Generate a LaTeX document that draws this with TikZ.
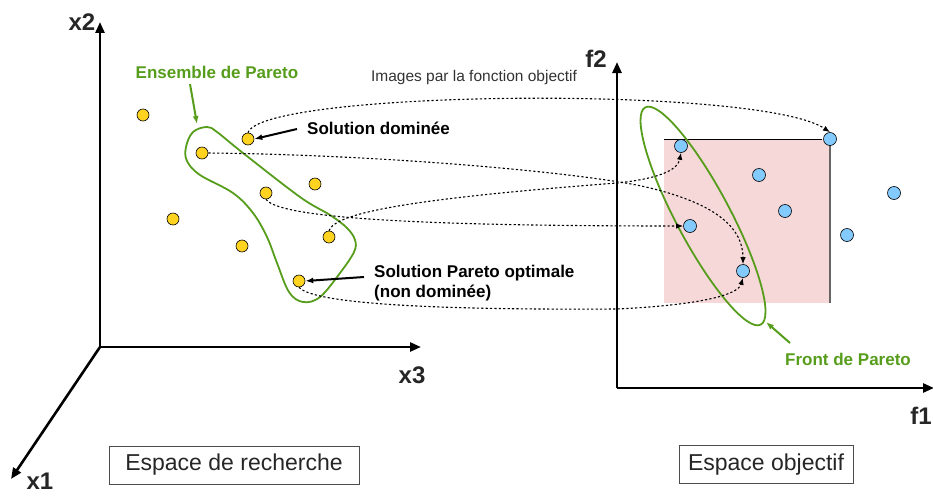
\documentclass[tikz,border=0pt]{standalone}
\usepackage{fontspec}
\setmainfont{Liberation Sans}
\usetikzlibrary{arrows.meta}
\definecolor{ptyellow}{HTML}{FFD320}
\definecolor{ptblue}{HTML}{83CAFF}
\definecolor{pgreen}{HTML}{579D1C}
\definecolor{ppink}{HTML}{F6D8D8}
\definecolor{txtgray}{HTML}{333333}
\tikzset{
  ypt/.style={circle, draw=black, line width=0.6pt, fill=ptyellow, minimum size=12pt, inner sep=0pt},
  bpt/.style={circle, draw=black, line width=0.6pt, fill=ptblue, minimum size=13pt, inner sep=0pt},
  axis/.style={line width=2.6pt, -{Triangle[length=11pt,width=9pt]}},
  axlabel/.style={font=\fontsize{24}{28}\selectfont\bfseries, text=black!85, inner sep=0pt},
  lbl/.style={font=\fontsize{17}{20}\selectfont\bfseries, inner sep=0pt},
  glbl/.style={font=\fontsize{17}{20}\selectfont\bfseries, text=pgreen, inner sep=0pt},
  mapline/.style={line width=1.1pt, dash pattern=on 2.2pt off 2.2pt, -{Latex[length=7pt,width=5.5pt]}},
  ptr/.style={line width=2pt, -{Latex[length=8pt,width=6pt]}},
  gptr/.style={line width=2pt, draw=pgreen, -{Latex[length=8pt,width=6pt]}},
  spacebox/.style={draw=black!70, line width=0.8pt, font=\fontsize{23}{27}\selectfont, text=black!85, inner sep=0pt, minimum height=38pt},
}
\begin{document}
\begin{tikzpicture}[x=1pt,y=-1pt]
\useasboundingbox (0,0) rectangle (933,495);
% pink dominated region
\fill[ppink] (664,139) rectangle (830,303);
\draw[black, line width=1pt] (664,139) -- (822,139);
\draw[black!60, line width=1.2pt] (830,145) -- (830,303);
% axes left
\coordinate (o1) at (100,347);
\coordinate (x2t) at (100,22);
\coordinate (x3t) at (421,347);
\coordinate (x1t) at (11,479);
\draw[axis] (o1) -- (x2t);
\draw[axis] (o1) -- (x3t);
\draw[axis] (o1) -- (x1t);
\node[axlabel] (lx2) at (82,22) {x2};
\node[axlabel] (lx3) at (412,375) {x3};
\node[axlabel, anchor=south] (lx1) at (40,490) {x1};
% axes right
\coordinate (o2) at (617,388);
\coordinate (f2t) at (617,62);
\coordinate (f1t) at (934,388);
\draw[axis] (o2) -- (f2t);
\draw[axis] (o2) -- (f1t);
\node[axlabel] (lf2) at (596,59) {f2};
\node[axlabel, anchor=east] (lf1) at (932,416) {f1};
% Pareto set blob
\draw[pgreen, line width=1.8pt] plot[smooth cycle, tension=0.6] coordinates {
 (207,127) (217,132) (243,153) (300,197) (330,215) (347,228) (355,240) (354,252)
 (340,273) (320,297) (303,302) (289,292) (277,263) (267,237) (253,213) (233,193)
 (200,175) (187,161) (186,147) (193,132)};
% Pareto front ellipse
\draw[pgreen, line width=1.8pt, rotate around={-62:(703,216)}] (703,216) ellipse [x radius=123pt, y radius=27pt];
% search space points
\node[ypt] (y1) at (143,115) {};
\node[ypt] (y2) at (248,139) {};
\node[ypt] (y3) at (202,153) {};
\node[ypt] (y4) at (315,184) {};
\node[ypt] (y5) at (266,193) {};
\node[ypt] (y6) at (173,219) {};
\node[ypt] (y7) at (329,237) {};
\node[ypt] (y8) at (242,246) {};
\node[ypt] (y9) at (299,281) {};
% objective space points
\node[bpt] (b1) at (681,146) {};
\node[bpt] (b2) at (830,139) {};
\node[bpt] (b3) at (759,175) {};
\node[bpt] (b4) at (785,211) {};
\node[bpt] (b5) at (894,193) {};
\node[bpt] (b6) at (690,226) {};
\node[bpt] (b7) at (847,235) {};
\node[bpt] (b8) at (743,271) {};
% mapping lines
\draw[mapline] (y2.north) .. controls (262,90) and (760,85) .. (b2.north);
\draw[mapline] (y3.east) .. controls (400,155) and (600,175) .. (650,188) .. controls (720,205) and (743,230) .. (b8.north);
\draw[mapline] (y5.south) .. controls (280,220) and (450,226) .. (b6.west);
\draw[mapline] (y7.north) .. controls (335,212) and (420,198) .. (617,183) .. controls (665,178) and (678,168) .. (b1.south);
\draw[mapline] (y9.south) .. controls (315,305) and (450,310) .. (617,309) .. controls (700,305) and (738,295) .. (b8.south);
% labels
\node[glbl] (lens) at (217,72) {Ensemble de Pareto};
\draw[gptr] (190,84) -- (197,124);
\node[font=\fontsize{15.5}{18}\selectfont, text=txtgray, inner sep=0pt] (limg) at (474,77) {Images par la fonction objectif};
\node[lbl, anchor=west] (ldom) at (307,128) {Solution dominée};
\draw[ptr] (297,129) -- (y2.east);
\node[lbl, anchor=west, align=left] (lpar) at (374,283) {Solution Pareto optimale\\(non dominée)};
\draw[ptr] (364,277) -- (y9.east);
\node[glbl] (lfront) at (848,359) {Front de Pareto};
\draw[gptr] (790,343) -- (766,322);
% boxes
\node[spacebox, minimum width=250pt] (bsr) at (234,465) {Espace de recherche};
\node[spacebox, minimum width=174pt] (bso) at (766,464.5) {Espace objectif};
\end{tikzpicture}
\end{document}
